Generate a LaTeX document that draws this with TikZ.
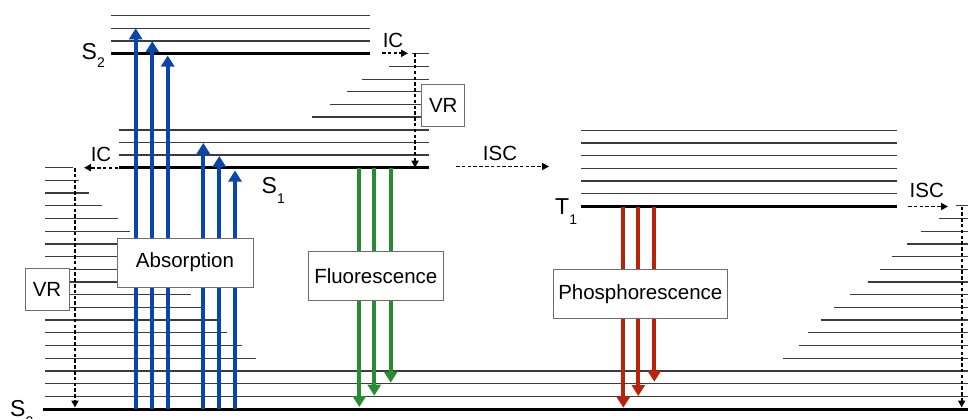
\documentclass[tikz,border=0pt]{standalone}
\usepackage{fontspec}
\setmainfont{Liberation Sans}
\usetikzlibrary{arrows.meta}
\definecolor{absblue}{RGB}{10,70,170}
\definecolor{flgreen}{RGB}{40,140,50}
\definecolor{phred}{RGB}{185,35,10}
\definecolor{linegray}{RGB}{60,60,60}
\definecolor{boxgray}{RGB}{110,110,110}
\newcommand{\lvlsub}[2]{\raisebox{#1}{\fontsize{14}{14}\selectfont #2}}
\begin{document}
\begin{tikzpicture}[x=1pt,y=-1pt,
  thinlvl/.style={line width=1.3pt, draw=linegray},
  thicklvl/.style={line width=3pt, draw=black},
  transfer/.style={line width=1.8pt, dash pattern=on 3.5pt off 2.3pt, -{Triangle[length=7pt,width=7pt]}},
  radiative/.style={line width=4pt, -{Triangle[length=11pt,width=13pt]}},
  labelbox/.style={draw=boxgray, line width=1pt, fill=white, inner sep=0pt, font=\fontsize{20.5}{24}\selectfont},
  proclabel/.style={inner sep=0pt, font=\fontsize{20.5}{24}\selectfont},
  statelabel/.style={inner sep=0pt, anchor=base west, font=\fontsize{23}{26}\selectfont}]
\useasboundingbox (0,0) rectangle (968,418);

% ---------- S2 manifold ----------
\foreach \y in {15.5,28.3,41} \draw[thinlvl] (111,\y) -- (370,\y);
\draw[thicklvl] (111,53.3) -- (370,53.3);
% S2 -> S1 VR ladder
\foreach \y/\xs in {53.3/412,66.7/389,79.3/362,91.7/347,104.3/330,117/312}
  \draw[thinlvl] (\xs,\y) -- (429,\y);
% ---------- S1 manifold ----------
\foreach \y in {130,142.5,155} \draw[thinlvl] (119,\y) -- (429,\y);
\draw[thicklvl] (119,167.7) -- (429,167.7);
% ---------- T1 manifold ----------
\foreach \j in {1,...,6} \draw[thinlvl] (581,{206.5-12.7*\j}) -- (897,{206.5-12.7*\j});
\draw[thicklvl] (581,206.5) -- (897,206.5);
% ---------- S0 manifold ----------
\foreach \k/\xe in {19/73,18/79,17/89,16/102,15/118,14/130,13/145,12/158,11/170,10/180,9/190.7,8/201.7,7/216.7,6/226.7,5/241.7,4/255.7}
  \draw[thinlvl] (45,{409-12.7*\k}) -- (\xe,{409-12.7*\k});
\foreach \k/\xs in {4/783.3,5/798.7,6/807.7,7/820.7,8/834.3,9/850,10/868.3,11/880,12/891.7,13/906.7,14/921,15/939,16/956}
  \draw[thinlvl] (\xs,{409-12.7*\k}) -- (968,{409-12.7*\k});
\foreach \k in {1,2,3} \draw[thinlvl] (45,{409-12.7*\k}) -- (968,{409-12.7*\k});
\draw[thicklvl] (43,409) -- (968,409);

% ---------- coordinates ----------
\coordinate (icAs) at (382,53.3);   \coordinate (icAe) at (408,53.3);
\coordinate (vrAs) at (415,53.3);   \coordinate (vrAe) at (415,167.7);
\coordinate (icBs) at (118,167.7);  \coordinate (icBe) at (84,167.7);
\coordinate (vrBs) at (75,168);     \coordinate (vrBe) at (75,407.5);
\coordinate (iscAs) at (456,166.5); \coordinate (iscAe) at (549,166.5);
\coordinate (iscBs) at (908,206.5); \coordinate (iscBe) at (948,206.5);
\coordinate (vrCs) at (961.7,206.5);\coordinate (vrCe) at (961.7,407.5);

% ---------- non-radiative transfers ----------
\draw[transfer] (icAs) -- (icAe);
\draw[transfer] (vrAs) -- (vrAe);
\draw[transfer] (icBs) -- (icBe);
\draw[transfer] (vrBs) -- (vrBe);
\draw[transfer] (iscAs) -- (iscAe);
\draw[transfer] (iscBs) -- (iscBe);
\draw[transfer] (vrCs) -- (vrCe);

% ---------- absorption ----------
\foreach \n/\x/\yt in {1/135.7/28.3,2/152.3/41.2,3/167.7/55.5,4/203.3/143,5/219.3/156,6/235/170.5}{
  \coordinate (abs\n s) at (\x,409);
  \coordinate (abs\n e) at (\x,\yt);
  \draw[radiative, absblue] (abs\n s) -- (abs\n e);
}
% ---------- fluorescence ----------
\foreach \n/\x/\yt in {1/359.3/407,2/374.3/395.7,3/390.7/382.7}{
  \coordinate (fl\n s) at (\x,167.7);
  \coordinate (fl\n e) at (\x,\yt);
  \draw[radiative, flgreen] (fl\n s) -- (fl\n e);
}
% ---------- phosphorescence ----------
\foreach \n/\x/\yt in {1/623.3/407.7,2/638.3/396,3/654.3/381.7}{
  \coordinate (ph\n s) at (\x,206.5);
  \coordinate (ph\n e) at (\x,\yt);
  \draw[radiative, phred] (ph\n s) -- (ph\n e);
}

% ---------- boxes ----------
\node[labelbox, minimum width=136pt, minimum height=49pt] (absbox) at (185,262.5) {Absorption};
\node[labelbox, minimum width=135pt, minimum height=49pt] (flbox) at (375.8,275.8) {Fluorescence};
\node[labelbox, minimum width=174pt, minimum height=49pt] (phbox) at (640.3,293.8) {Phosphorescence};
\node[labelbox, minimum width=44pt, minimum height=42pt] (vrleft) at (47,289) {VR};
\node[labelbox, minimum width=43.3pt, minimum height=42pt] (vrright) at (443.3,105) {VR};

% ---------- process labels ----------
\node[proclabel] (icA) at (393,40.5) {IC};
\node[proclabel] (icB) at (101,154.5) {IC};
\node[proclabel] (iscA) at (500,153) {ISC};
\node[proclabel] (iscB) at (926.7,190.5) {ISC};

% ---------- state labels ----------
\node[statelabel] (s2) at (81.5,59.3) {S\lvlsub{-8pt}{2}};
\node[statelabel] (s1) at (261.5,193.3) {S\lvlsub{-10pt}{1}};
\node[statelabel] (t1) at (555,214.3) {T\lvlsub{-10pt}{1}};
\node[statelabel] (s0) at (10,416.5) {S\lvlsub{-10pt}{0}};
\end{tikzpicture}
\end{document}
